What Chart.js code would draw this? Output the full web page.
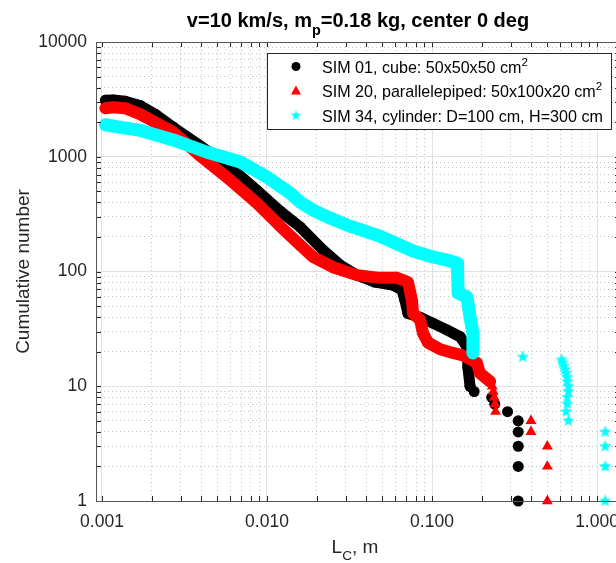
<!DOCTYPE html>
<html>
<head>
<meta charset="utf-8">
<title>Cumulative number vs L_C</title>
<style>
  html, body { margin: 0; padding: 0; background: #fff; overflow: hidden; }
  #wrap { position: relative; width: 640px; height: 563px; }
</style>
<script src="https://cdn.jsdelivr.net/npm/chart.js@4.4.1/dist/chart.umd.min.js"></script>
</head>
<body>
<div id="wrap"><canvas id="chart" width="640" height="563"></canvas></div>
<script>
// SIM 01 (cube) - dense part of the curve, then the separate points of the tail
const sim01CurveL = [0.00105, 0.00117, 0.00138, 0.0017, 0.0021, 0.0027, 0.0039, 0.006, 0.0087, 0.012, 0.0159, 0.0218, 0.0277, 0.0351, 0.0451, 0.058, 0.0658, 0.0686, 0.0715, 0.0846, 0.101, 0.123, 0.148, 0.163, 0.165, 0.170];
const sim01CurveN = [3100, 3120, 3050, 2800, 2350, 1810, 1260, 810, 510, 336, 244, 154, 114, 93, 81, 76, 69, 56, 43, 40, 35.5, 31, 27, 22, 14.7, 10];
const sim01TailL = [0.180, 0.230, 0.240, 0.287, 0.333, 0.333, 0.333, 0.333, 0.333];
const sim01TailN = [9, 8, 7, 6, 5, 4, 3, 2, 1];

// SIM 20 (parallelepiped)
const sim20CurveL = [0.00105, 0.00117, 0.00138, 0.0017, 0.0021, 0.0027, 0.0039, 0.006, 0.0087, 0.012, 0.0159, 0.019, 0.0251, 0.0351, 0.0484, 0.0614, 0.0715, 0.0756, 0.0768, 0.0846, 0.0882, 0.0946, 0.112, 0.134, 0.152, 0.187, 0.195, 0.225];
const sim20CurveN = [2650, 2700, 2650, 2350, 2000, 1640, 1030, 625, 394, 249, 170, 134, 109, 93, 88, 88, 81, 56, 43, 38, 29, 24, 21, 19.5, 18.7, 16, 13, 11];
const sim20TailL = [0.232, 0.235, 0.238, 0.241, 0.243, 0.398, 0.398, 0.50, 0.50, 0.50];
const sim20TailN = [10, 9, 8, 7, 6, 5, 4, 3, 2, 1];

// SIM 34 (cylinder)
const sim34CurveL = [0.00105, 0.00117, 0.0017, 0.0027, 0.0043, 0.0069, 0.010, 0.0138, 0.0159, 0.019, 0.0241, 0.0305, 0.0484, 0.0767, 0.101, 0.123, 0.142, 0.143, 0.144, 0.163, 0.170, 0.177, 0.177];
const sim34CurveN = [1900, 1850, 1700, 1400, 1100, 900, 665, 482, 402, 343, 292, 254, 203, 151, 134, 126, 118, 93, 65, 60, 40, 29, 19.5];
const sim34TailL = [0.355, 0.61, 0.62, 0.63, 0.64, 0.65, 0.66, 0.66, 0.67, 0.67, 0.66, 0.66, 0.65, 0.67, 1.12, 1.12, 1.12, 1.12];
const sim34TailN = [18, 17, 16, 15, 14, 13, 12, 11, 10, 9, 8, 7, 6, 5, 4, 3, 2, 1];

// axes
const xMajor = [0.001, 0.01, 0.1, 1];
const xTickLabels = ['0.001', '0.010', '0.100', '1.000'];
const yMajor = [1, 10, 100, 1000, 10000];
const yTickLabels = ['1', '10', '100', '1000', '10000'];
const xMin = 0.00092, xMax = 1.378;
const yMin = 1, yMax = 10000;

const seriesNames = [
  [['SIM 01, cube: 50x50x50 cm', 0], ['2', -1]],
  [['SIM 20, parallelepiped: 50x100x20 cm', 0], ['2', -1]],
  [['SIM 34, cylinder: D=100 cm, H=300 cm', 0]]
];

const FONT = '"Liberation Sans", Arial, Helvetica, sans-serif';
const TEXT = '#262626';
Chart.defaults.font.family = FONT;
Chart.defaults.color = TEXT;

function pts(Ls, Ns) {
  return Ls.map((x, i) => ({ x: x, y: Ns[i] }));
}

// all tick positions (majors + 2..9 minors) inside the axis limits
function tickValues(majors, lo, hi) {
  const out = [];
  majors.forEach(m => {
    for (let k = 1; k <= 9; k++) {
      const v = +(m * k).toPrecision(6);
      if (v >= lo && v <= hi) out.push(v);
    }
  });
  return out.filter((v, i, a) => a.indexOf(v) === i).sort((a, b) => a - b);
}
const xTicks = tickValues(xMajor, xMin, xMax);
const yTicks = tickValues(yMajor, yMin, yMax);

function majorIndex(v, majors) {
  return majors.findIndex(m => Math.abs(v / m - 1) < 1e-6);
}

// filled pentagram used as marker for SIM 34
function makeStar(r, color) {
  const s = Math.ceil(r * 2 + 2);
  const c = document.createElement('canvas');
  c.width = c.height = s;
  const g = c.getContext('2d');
  g.fillStyle = color;
  g.beginPath();
  for (let i = 0; i < 10; i++) {
    const rr = i % 2 ? r * 0.42 : r;
    const a = -Math.PI / 2 + i * Math.PI / 5;
    g.lineTo(s / 2 + rr * Math.cos(a), s / 2 + rr * Math.sin(a));
  }
  g.closePath();
  g.fill();
  return c;
}
const starPlot = makeStar(6.5, '#00ffff');
const starLegend = makeStar(5.5, '#00ffff');

// text with sub / superscripts: parts = [[text, shift]], shift 1 = sub, -1 = sup
function richText(ctx, parts, x, y, size, weight, align) {
  const fontOf = p => (weight || '') + ' ' + (p[1] ? size * 0.72 : size) + 'px ' + FONT;
  let w = 0;
  parts.forEach(p => { ctx.font = fontOf(p); w += ctx.measureText(p[0]).width; });
  let cx = align === 'center' ? x - w / 2 : x;
  ctx.textAlign = 'left';
  ctx.textBaseline = 'alphabetic';
  parts.forEach(p => {
    ctx.font = fontOf(p);
    const dy = p[1] === 1 ? size * 0.38 : p[1] === -1 ? -size * 0.42 : 0;
    ctx.fillText(p[0], cx, y + dy);
    cx += ctx.measureText(p[0]).width;
  });
}

const decor = {
  id: 'decor',
  afterDatasetsDraw(chart) {
    const ctx = chart.ctx;
    const a = chart.chartArea;
    const xs = chart.scales.x, ys = chart.scales.y;
    ctx.save();
    // inward ticks on all four sides
    ctx.strokeStyle = TEXT;
    ctx.lineWidth = 1;
    ctx.beginPath();
    const tl = 5;
    xTicks.forEach(v => {
      const px = Math.round(xs.getPixelForValue(v)) + 0.5;
      ctx.moveTo(px, a.bottom); ctx.lineTo(px, a.bottom - tl);
      ctx.moveTo(px, a.top); ctx.lineTo(px, a.top + tl);
    });
    yTicks.forEach(v => {
      const py = Math.round(ys.getPixelForValue(v)) + 0.5;
      ctx.moveTo(a.left, py); ctx.lineTo(a.left + tl, py);
      ctx.moveTo(a.right, py); ctx.lineTo(a.right - tl, py);
    });
    ctx.stroke();
    // box
    ctx.strokeStyle = '#555';
    ctx.strokeRect(Math.round(a.left) + 0.5, Math.round(a.top) + 0.5,
      Math.round(a.right - a.left), Math.round(a.bottom - a.top));
    ctx.restore();
  },
  afterDraw(chart) {
    const ctx = chart.ctx;
    const a = chart.chartArea;
    const cx = (a.left + a.right) / 2;
    ctx.save();
    ctx.fillStyle = '#000';
    // title
    richText(ctx, [['v=10 km/s, m', 0], ['p', 1], ['=0.18 kg, center 0 deg', 0]], cx, 27, 20, 'bold', 'center');
    // axis titles
    ctx.fillStyle = TEXT;
    richText(ctx, [['L', 0], ['C', 1], [', m', 0]], cx - 3, 553, 19, '', 'center');
    ctx.save();
    ctx.translate(29, (a.top + a.bottom) / 2);
    ctx.rotate(-Math.PI / 2);
    richText(ctx, [['Cumulative number', 0]], 0, 0, 19, '', 'center');
    ctx.restore();

    // legend
    const box = { x: 267.5, y: 53.5, w: 344, h: 76 };
    ctx.fillStyle = '#fff';
    ctx.fillRect(box.x, box.y, box.w, box.h);
    ctx.strokeStyle = '#262626';
    ctx.lineWidth = 1;
    ctx.strokeRect(box.x, box.y, box.w, box.h);
    const rows = [66.5, 91, 115.5];
    const mx = 296;
    // circle
    ctx.fillStyle = '#000';
    ctx.beginPath(); ctx.arc(mx, rows[0], 4.5, 0, Math.PI * 2); ctx.fill();
    // triangle
    ctx.fillStyle = '#ff0000';
    ctx.beginPath();
    ctx.moveTo(mx, rows[1] - 5.5); ctx.lineTo(mx + 5, rows[1] + 3.5); ctx.lineTo(mx - 5, rows[1] + 3.5);
    ctx.closePath(); ctx.fill();
    // star
    ctx.drawImage(starLegend, mx - starLegend.width / 2, rows[2] - starLegend.height / 2);
    ctx.fillStyle = '#000';
    seriesNames.forEach((parts, i) => richText(ctx, parts, 322, rows[i] + 6, 16.1, '', 'left'));
    ctx.restore();
  }
};

function curveSet(Ls, Ns, color, width, style, radius, order) {
  return {
    data: pts(Ls, Ns), showLine: true, borderColor: color, borderWidth: width,
    borderCapStyle: 'round', borderJoinStyle: 'round', backgroundColor: color,
    pointStyle: style, pointRadius: radius, pointBorderWidth: 0, order: order
  };
}
function tailSet(Ls, Ns, color, style, radius, order) {
  return {
    data: pts(Ls, Ns), showLine: false, backgroundColor: color, borderColor: color,
    pointStyle: style, pointRadius: radius, pointBorderWidth: 0, order: order, clip: false
  };
}

new Chart(document.getElementById('chart'), {
  type: 'scatter',
  data: {
    datasets: [
      curveSet(sim01CurveL, sim01CurveN, '#000000', 11, 'circle', 5.5, 5),
      tailSet(sim01TailL, sim01TailN, '#000000', 'circle', 5.5, 4),
      curveSet(sim20CurveL, sim20CurveN, '#ff0000', 12, 'triangle', 6.3, 3),
      tailSet(sim20TailL, sim20TailN, '#ff0000', 'triangle', 6.3, 2),
      curveSet(sim34CurveL, sim34CurveN, '#00ffff', 13, starPlot, 6.5, 1),
      tailSet(sim34TailL, sim34TailN, '#00ffff', starPlot, 6.5, 0)
    ]
  },
  options: {
    responsive: false,
    devicePixelRatio: 1,
    animation: false,
    events: [],
    layout: { padding: { left: 0, right: 20, top: 42, bottom: 0 } },
    plugins: { legend: { display: false }, tooltip: { enabled: false }, title: { display: false } },
    scales: {
      x: {
        type: 'logarithmic', min: xMin, max: xMax,
        afterFit: s => { s.height = 62; },
        afterBuildTicks: s => { s.ticks = xTicks.map(v => ({ value: v })); },
        ticks: {
          autoSkip: false, maxRotation: 0, padding: 11, color: TEXT,
          font: { size: 17.5 },
          callback: v => { const i = majorIndex(v, xMajor); return i < 0 ? '' : xTickLabels[i]; }
        },
        grid: {
          drawTicks: false,
          color: c => majorIndex(c.tick.value, xMajor) < 0 ? '#c4c4c4' : '#e2e2e2'
        },
        border: { display: false, dash: c => majorIndex(c.tick.value, xMajor) < 0 ? [1, 3] : [] }
      },
      y: {
        type: 'logarithmic', min: yMin, max: yMax,
        afterFit: s => { s.width = 96; },
        afterBuildTicks: s => { s.ticks = yTicks.map(v => ({ value: v })); },
        ticks: {
          autoSkip: false, padding: 9, color: TEXT,
          font: { size: 17.5 },
          callback: v => { const i = majorIndex(v, yMajor); return i < 0 ? '' : yTickLabels[i]; }
        },
        grid: {
          drawTicks: false,
          color: c => majorIndex(c.tick.value, yMajor) < 0 ? '#c4c4c4' : '#e2e2e2'
        },
        border: { display: false, dash: c => majorIndex(c.tick.value, yMajor) < 0 ? [1, 3] : [] }
      }
    }
  },
  plugins: [decor]
});
</script>
</body>
</html>
